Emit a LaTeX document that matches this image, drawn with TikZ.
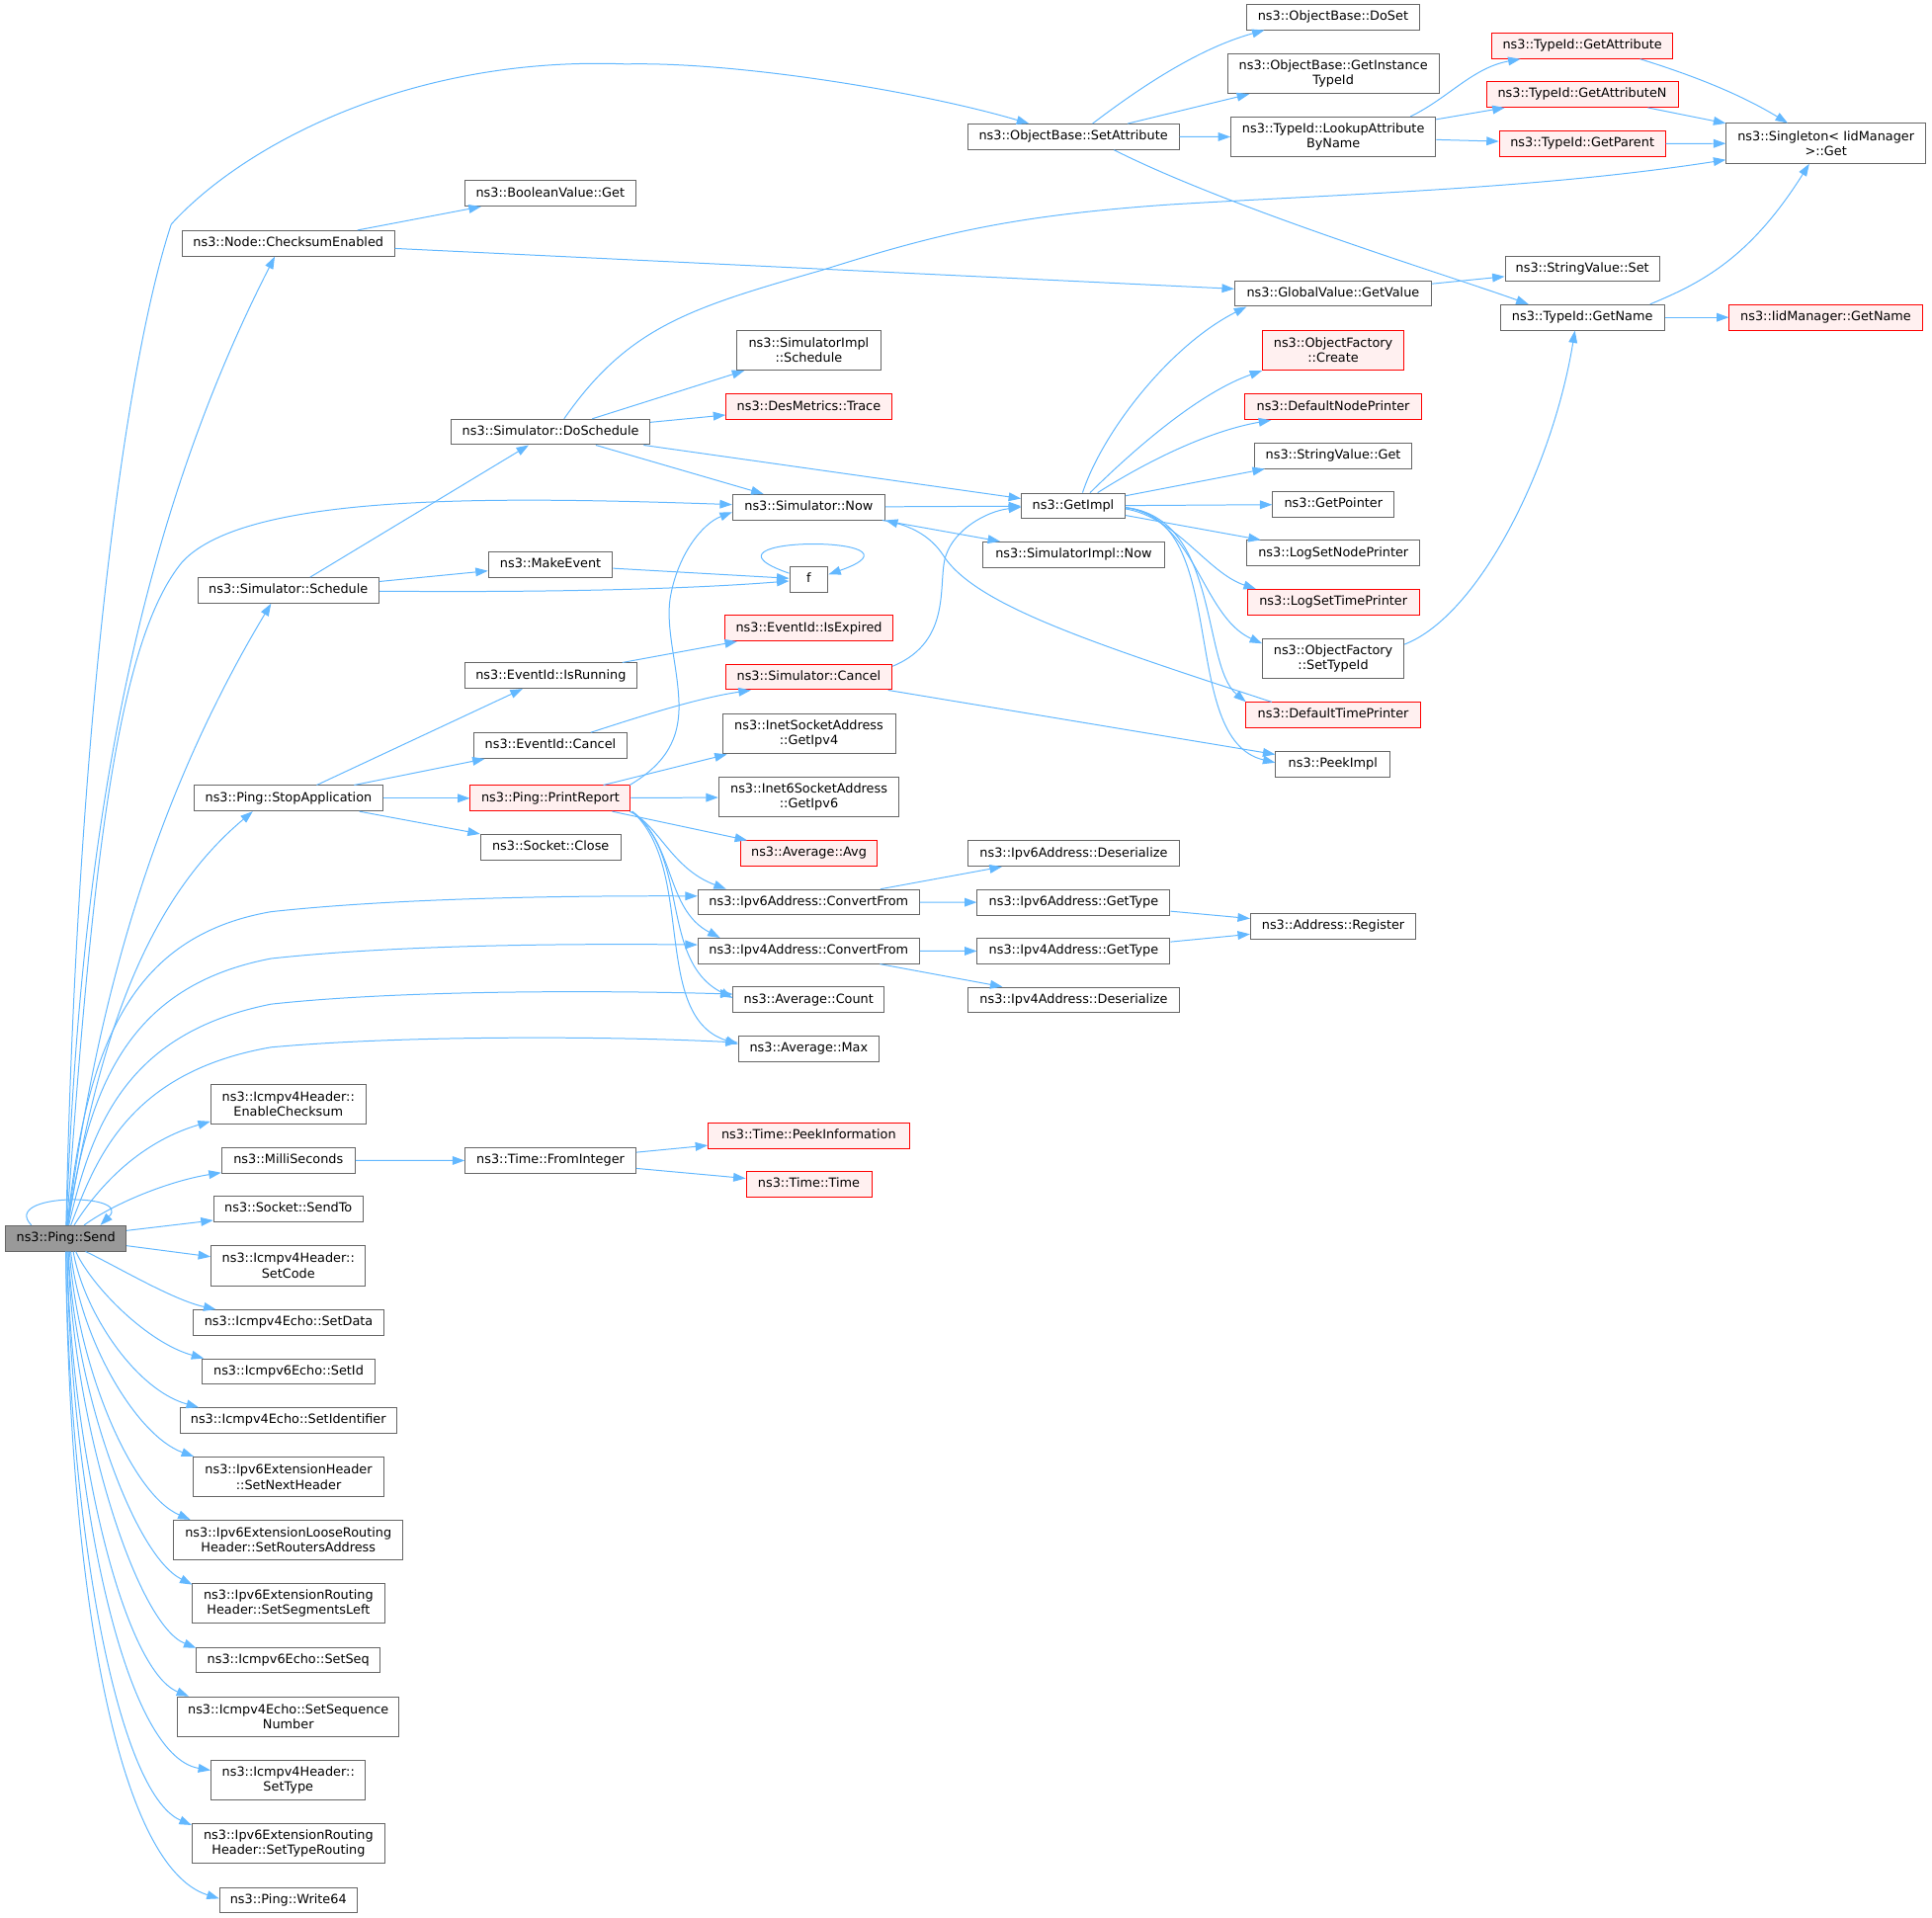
\documentclass[tikz,border=0pt]{standalone}
\usepackage{fontspec}
\setmainfont{DejaVu Sans}
\usetikzlibrary{arrows.meta}
\definecolor{edgeblue}{HTML}{63B8FF}
\definecolor{nodegray}{HTML}{666666}
\definecolor{hotfill}{HTML}{FFF0F0}
\definecolor{hotdraw}{HTML}{FF0000}
\definecolor{rootfill}{HTML}{999999}
\newcommand\fnt{\fontsize{10.3}{12.3}\selectfont}
\begin{document}
\begin{tikzpicture}[x=1pt,y=-1pt,
  ndb/.style={draw=nodegray, fill=white, line width=0.8pt, inner xsep=4pt, inner ysep=0pt, align=center, font=\fnt},
  nd/.style={ndb, minimum height=20.6pt, text height=7.6pt, text depth=2.3pt},
  ndt/.style={ndb, minimum height=32.3pt},
  hot/.style={draw=hotdraw, fill=hotfill},
  lnk/.style={draw=edgeblue, line width=0.8pt, -{Triangle[length=10pt,width=7pt]}}]
\useasboundingbox (0,0) rectangle (1568,1556);

% ---------- nodes ----------
\node[nd, fill=rootfill, minimum width=97.9pt] (send) at (53.45,1005.1) {ns3::Ping::Send};

\node[nd, minimum width=172.4pt] (checksum) at (234,197.5) {ns3::Node::ChecksumEnabled};
\node[nd, minimum width=146.8pt] (schedule) at (234,479.2) {ns3::Simulator::Schedule};
\node[nd, minimum width=152.9pt] (stopapp) at (234.15,647.9) {ns3::Ping::StopApplication};
\node[ndt, minimum width=125.8pt] (enable) at (234,896.2) {ns3::Icmpv4Header::\\EnableChecksum};
\node[nd, minimum width=108.3pt] (milli) at (234,941.9) {ns3::MilliSeconds};
\node[nd, minimum width=121.1pt] (sendto) at (234,981.3) {ns3::Socket::SendTo};
\node[ndt, minimum width=125.4pt] (setcode) at (234,1027.3) {ns3::Icmpv4Header::\\SetCode};
\node[nd, minimum width=154.5pt] (setdata) at (234.25,1073.5) {ns3::Icmpv4Echo::SetData};
\node[nd, minimum width=139.6pt] (setid) at (234.2,1113.2) {ns3::Icmpv6Echo::SetId};
\node[nd, minimum width=175.7pt] (setident) at (234,1153) {ns3::Icmpv4Echo::SetIdentifier};
\node[ndt, minimum width=154.5pt] (setnext) at (234.25,1198.7) {ns3::Ipv6ExtensionHeader\\::SetNextHeader};
\node[ndt, minimum width=186.3pt] (setrouters) at (234,1250) {ns3::Ipv6ExtensionLooseRouting\\Header::SetRoutersAddress};
\node[ndt, minimum width=156.4pt] (setseg) at (234.1,1301.2) {ns3::Ipv6ExtensionRouting\\Header::SetSegmentsLeft};
\node[nd, minimum width=148.9pt] (setseq) at (234,1347.5) {ns3::Icmpv6Echo::SetSeq};
\node[ndt, minimum width=179.9pt] (setseqnum) at (234,1393.4) {ns3::Icmpv4Echo::SetSequence\\Number};
\node[ndt, minimum width=125.4pt] (settype) at (234,1444.8) {ns3::Icmpv4Header::\\SetType};
\node[ndt, minimum width=156.4pt] (settyperout) at (234.1,1496.1) {ns3::Ipv6ExtensionRouting\\Header::SetTypeRouting};
\node[nd, minimum width=111.5pt] (write64) at (234,1542.2) {ns3::Ping::Write64};

\node[nd, minimum width=139.1pt] (boolget) at (446.6,157) {ns3::BooleanValue::Get};
\node[nd, minimum width=161.2pt] (doschedule) at (446.8,350.6) {ns3::Simulator::DoSchedule};
\node[nd, minimum width=100.8pt] (makeevent) at (446.8,458.4) {ns3::MakeEvent};
\node[nd, minimum width=139.3pt] (isrunning) at (447,548.4) {ns3::EventId::IsRunning};
\node[nd, minimum width=124.2pt] (evcancel) at (446.7,605.2) {ns3::EventId::Cancel};
\node[nd, hot, minimum width=129.9pt] (printreport) at (446.7,647.9) {ns3::Ping::PrintReport};
\node[nd, minimum width=113.8pt] (sockclose) at (446.9,687.5) {ns3::Socket::Close};
\node[nd, minimum width=138.5pt] (frominteger) at (446.8,942) {ns3::Time::FromInteger};

\node[ndt, minimum width=117pt] (simimplsched) at (656.4,284.3) {ns3::SimulatorImpl\\::Schedule};
\node[nd, hot, minimum width=134.2pt] (desmetrics) at (656.4,330.3) {ns3::DesMetrics::Trace};
\node[nd, minimum width=123.6pt] (simnow) at (656.4,411.6) {ns3::Simulator::Now};
\node[nd, minimum width=31.1pt] (f) at (656.4,470.3) {f};
\node[nd, hot, minimum width=137pt] (isexpired) at (656.5,509.9) {ns3::EventId::IsExpired};
\node[nd, hot, minimum width=135.1pt] (simcancel) at (656.4,549.5) {ns3::Simulator::Cancel};
\node[ndt, minimum width=140.4pt] (getipv4) at (656.5,595.7) {ns3::InetSocketAddress\\::GetIpv4};
\node[ndt, minimum width=146.4pt] (getipv6) at (656.5,647) {ns3::Inet6SocketAddress\\::GetIpv6};
\node[nd, hot, minimum width=111.4pt] (avg) at (656.5,692.7) {ns3::Average::Avg};
\node[nd, minimum width=179.7pt] (ip6cf) at (656.35,732.3) {ns3::Ipv6Address::ConvertFrom};
\node[nd, minimum width=179.7pt] (ip4cf) at (656.35,771.8) {ns3::Ipv4Address::ConvertFrom};
\node[nd, minimum width=122.4pt] (count) at (656.3,811.5) {ns3::Average::Count};
\node[nd, minimum width=113.9pt] (max) at (656.35,851.1) {ns3::Average::Max};
\node[nd, hot, minimum width=163.1pt] (peekinfo) at (656.35,921.8) {ns3::Time::PeekInformation};
\node[nd, hot, minimum width=101.8pt] (timetime) at (656.5,961.1) {ns3::Time::Time};

\node[nd, minimum width=171.8pt] (setattr) at (871.1,111) {ns3::ObjectBase::SetAttribute};
\node[nd, minimum width=84pt] (getimpl) at (871,410.6) {ns3::GetImpl};
\node[nd, minimum width=146.8pt] (simimplnow) at (871.4,450.1) {ns3::SimulatorImpl::Now};
\node[nd, minimum width=172.4pt] (ip6deser) at (871.4,692.8) {ns3::Ipv6Address::Deserialize};
\node[nd, minimum width=156.4pt] (ip6type) at (871.4,732.4) {ns3::Ipv6Address::GetType};
\node[nd, minimum width=156.4pt] (ip4type) at (871.4,772) {ns3::Ipv4Address::GetType};
\node[nd, minimum width=172.4pt] (ip4deser) at (871.4,811.6) {ns3::Ipv4Address::Deserialize};

\node[nd, minimum width=140.4pt] (doset) at (1081.9,13.8) {ns3::ObjectBase::DoSet};
\node[ndt, minimum width=171.5pt] (getinst) at (1082.1,59.8) {ns3::ObjectBase::GetInstance\\TypeId};
\node[ndt, minimum width=166.2pt] (lookup) at (1082.1,111.1) {ns3::TypeId::LookupAttribute\\ByName};
\node[nd, minimum width=159.6pt] (globalget) at (1081.9,238.3) {ns3::GlobalValue::GetValue};
\node[ndt, hot, minimum width=114.6pt] (ofcreate) at (1082,284.3) {ns3::ObjectFactory\\::Create};
\node[nd, hot, minimum width=143.2pt] (defnode) at (1082,330.3) {ns3::DefaultNodePrinter};
\node[nd, minimum width=127.8pt] (stringget) at (1082,369.9) {ns3::StringValue::Get};
\node[nd, minimum width=98.6pt] (getpointer) at (1082.2,409.3) {ns3::GetPointer};
\node[nd, minimum width=140.3pt] (lognode) at (1082.15,448.9) {ns3::LogSetNodePrinter};
\node[nd, hot, minimum width=139.6pt] (logtime) at (1082.1,488.7) {ns3::LogSetTimePrinter};
\node[ndt, minimum width=114.6pt] (settypeid) at (1082,534.6) {ns3::ObjectFactory\\::SetTypeId};
\node[nd, hot, minimum width=142.4pt] (deftime) at (1082,580.4) {ns3::DefaultTimePrinter};
\node[nd, minimum width=92.9pt] (peekimpl) at (1081.8,620.1) {ns3::PeekImpl};
\node[nd, minimum width=134.2pt] (register) at (1082,751.7) {ns3::Address::Register};

\node[nd, hot, minimum width=146.9pt] (getattr) at (1284.2,37.2) {ns3::TypeId::GetAttribute};
\node[nd, hot, minimum width=155.6pt] (getattrn) at (1284.1,76.7) {ns3::TypeId::GetAttributeN};
\node[nd, hot, minimum width=134.7pt] (getparent) at (1284.2,116.6) {ns3::TypeId::GetParent};
\node[nd, minimum width=125.2pt] (stringset) at (1284.2,218.2) {ns3::StringValue::Set};
\node[nd, minimum width=133pt] (typegetname) at (1284.2,257.6) {ns3::TypeId::GetName};

\node[ndt, minimum width=161.7pt] (singleton) at (1481.9,116.4) {ns3::Singleton< IidManager\\ >::Get};
\node[nd, hot, minimum width=156.5pt] (iidgetname) at (1481.8,257.6) {ns3::IidManager::GetName};

% ---------- edges from Send ----------
\draw[lnk] (send) .. controls (62,600) and (100,300) .. (139,182) .. controls (195,120) and (330,45) .. (508,52) .. controls (600,50) and (750,75) .. (setattr);
\draw[lnk] (send) .. controls (65,680) and (110,430) .. ([shift={(-11,0)}]checksum.south);
\draw[lnk] (send) .. controls (75,700) and (95,520) .. (148,456) .. controls (200,400) and (400,403) .. (simnow);
\draw[lnk] (send) .. controls (80,800) and (130,640) .. ([shift={(-14,0)}]schedule.south);
\draw[lnk] (send) .. controls (80,840) and (120,730) .. ([shift={(-29,0)}]stopapp.south);
\draw[lnk] (send) .. controls (70,850) and (105,760) .. (220,740) .. controls (330,728) and (480,727) .. ([shift={(0,-5)}]ip6cf.west);
\draw[lnk] (send) .. controls (72,880) and (105,800) .. (220,778) .. controls (330,766) and (480,766) .. ([shift={(0,-5)}]ip4cf.west);
\draw[lnk] (send) .. controls (75,910) and (105,838) .. (220,815) .. controls (330,803) and (500,804) .. ([shift={(0,-4.6)}]count.west);
\draw[lnk] (send) .. controls (78,940) and (105,870) .. (220,850) .. controls (330,840) and (500,841) .. ([shift={(0,-4.9)}]max.west);
\draw[lnk] (send) .. controls (85,955) and (120,925) .. ([shift={(0,14)}]enable.west);
\draw[lnk] (send) .. controls (95,975) and (140,958) .. ([shift={(0,9.9)}]milli.west);
\draw[lnk] ([shift={(0,-6.3)}]send.east) -- ([shift={(0,9.2)}]sendto.west);
\draw[lnk] ([shift={(0,6)}]send.east) -- ([shift={(0,-7.3)}]setcode.west);
\draw[lnk] ([shift={(16,0)}]send.south) .. controls (95,1028) and (140,1055) .. ([shift={(-59,0)}]setdata.north);
\draw[lnk] ([shift={(8,0)}]send.south) .. controls (75,1045) and (120,1090) .. ([shift={(1.4,0)}]setid.north west);
\draw[lnk] ([shift={(6,0)}]send.south) .. controls (68,1065) and (110,1128) .. ([shift={(15.5,0)}]setident.north west);
\draw[lnk] ([shift={(4,0)}]send.south) .. controls (64,1085) and (110,1165) .. ([shift={(0.7,0)}]setnext.north west);
\draw[lnk] ([shift={(3,0)}]send.south) .. controls (62,1105) and (105,1212) .. ([shift={(14,0)}]setrouters.north west);
\draw[lnk] ([shift={(2,0)}]send.south) .. controls (60,1125) and (108,1262) .. ([shift={(0.5,1.5)}]setseg.north west);
\draw[lnk] ([shift={(2,0)}]send.south) .. controls (58,1150) and (110,1318) .. ([shift={(0,0.8)}]setseq.north west);
\draw[lnk] ([shift={(1,0)}]send.south) .. controls (57,1175) and (100,1355) .. ([shift={(9.6,0)}]setseqnum.north west);
\draw[lnk] ([shift={(1,0)}]send.south) .. controls (57,1210) and (100,1425) .. ([shift={(0,-8)}]settype.west);
\draw[lnk] (send.south) .. controls (56,1240) and (95,1455) .. ([shift={(0,1.8)}]settyperout.north west);
\draw[lnk] (send.south) .. controls (56,1290) and (95,1515) .. ([shift={(0,-1.2)}]write64.west);
\draw[lnk] ([shift={(-28,0)}]send.north) .. controls (0,968) and (108,968) .. ([shift={(28,0)}]send.north);

% ---------- second level ----------
\draw[lnk] (checksum) -- (boolget);
\draw[lnk] (checksum) -- (globalget);
\draw[lnk] (schedule) -- (doschedule);
\draw[lnk] (schedule) -- (makeevent);
\draw[lnk] (schedule) .. controls (450,481) and (560,478) .. (f);
\draw[lnk] (makeevent) -- (f);
\draw[lnk] ([shift={(0,-5)}]f.west) .. controls (550,434) and (765,434) .. ([shift={(0,-4)}]f.east);
\draw[lnk] (stopapp) -- (isrunning);
\draw[lnk] (stopapp) -- (evcancel);
\draw[lnk] (stopapp) -- (printreport);
\draw[lnk] (stopapp) -- (sockclose);
\draw[lnk] (milli) -- (frominteger);
\draw[lnk] (frominteger) -- (peekinfo);
\draw[lnk] (frominteger) -- (timetime);

\draw[lnk] ([shift={(11,0)}]doschedule.north) .. controls (510,265) and (560,250) .. (668,219) .. controls (760,190) and (820,175) .. (950,166) .. controls (1100,157) and (1250,153) .. ([shift={(0,13.3)}]singleton.west);
\draw[lnk] (doschedule) -- (simimplsched);
\draw[lnk] (doschedule) -- (desmetrics);
\draw[lnk] (doschedule) -- (simnow);
\draw[lnk] (doschedule) -- (getimpl);
\draw[lnk] (isrunning) -- (isexpired);
\draw[lnk] (evcancel) .. controls (530,578) and (570,566) .. ([shift={(-47,0)}]simcancel.south);

\draw[lnk] ([shift={(-1,0)}]printreport.north east) .. controls (540,620) and (552,600) .. (551,570) .. controls (550,540) and (540,510) .. (544,485) .. controls (550,450) and (570,425) .. ([shift={(0,4.1)}]simnow.west);
\draw[lnk] (printreport) -- (getipv4);
\draw[lnk] (printreport) -- (getipv6);
\draw[lnk] (printreport) -- (avg);
\draw[lnk] ([shift={(-1,0)}]printreport.south east) .. controls (535,670) and (545,705) .. ([shift={(-67,0)}]ip6cf.north);
\draw[lnk] ([shift={(1,0)}]printreport.south east) .. controls (548,685) and (540,738) .. ([shift={(-72,0)}]ip4cf.north);
\draw[lnk] ([shift={(1,0)}]printreport.south east) .. controls (560,695) and (535,780) .. ([shift={(0,-1.5)}]count.west);
\draw[lnk] ([shift={(1,0)}]printreport.south east) .. controls (565,705) and (528,825) .. ([shift={(0,-3.6)}]max.west);

\draw[lnk] (ip6cf) -- (ip6deser);
\draw[lnk] (ip6cf) -- (ip6type);
\draw[lnk] (ip4cf) -- (ip4type);
\draw[lnk] (ip4cf) -- (ip4deser);
\draw[lnk] (ip6type) -- (register);
\draw[lnk] (ip4type) -- (register);

\draw[lnk] (simnow) -- (getimpl);
\draw[lnk] (simnow) -- (simimplnow);
\draw[lnk] ([shift={(-50,0)}]deftime.north) .. controls (880,520) and (790,490) .. (765,450) .. controls (755,435) and (740,428) .. (simnow.south east);
\draw[lnk] ([shift={(0,2)}]simcancel.north east) .. controls (775,520) and (760,470) .. (768,450) .. controls (775,430) and (800,415) .. ([shift={(0,1.1)}]getimpl.west);
\draw[lnk] (simcancel) -- (peekimpl);

\draw[lnk] ([shift={(7.6,0)}]getimpl.north) .. controls (895,350) and (950,280) .. ([shift={(-70.3,0)}]globalget.south);
\draw[lnk] ([shift={(13.7,0)}]getimpl.north) .. controls (915,370) and (970,320) .. (ofcreate.south west);
\draw[lnk] ([shift={(19.8,0)}]getimpl.north) .. controls (930,375) and (980,350) .. ([shift={(21.6,0)}]defnode.south west);
\draw[lnk] (getimpl) -- (stringget);
\draw[lnk] (getimpl) -- (getpointer);
\draw[lnk] (getimpl) -- (lognode);
\draw[lnk] ([shift={(0,2.4)}]getimpl.east) .. controls (955,420) and (980,465) .. ([shift={(7.4,0)}]logtime.north west);
\draw[lnk] ([shift={(0,1.4)}]getimpl.east) .. controls (970,420) and (975,500) .. ([shift={(0,4.3)}]settypeid.north west);
\draw[lnk] ([shift={(0,1.4)}]getimpl.east) .. controls (990,420) and (975,540) .. ([shift={(0.8,0)}]deftime.north west);
\draw[lnk] ([shift={(0,1.4)}]getimpl.east) .. controls (1000,420) and (955,600) .. ([shift={(0,-1.1)}]peekimpl.west);

\draw[lnk] ([shift={(15.6,0)}]setattr.north) .. controls (920,75) and (970,40) .. ([shift={(14.9,0)}]doset.south west);
\draw[lnk] (setattr) -- (getinst);
\draw[lnk] (setattr) -- (lookup);
\draw[lnk] ([shift={(33,0)}]setattr.south) .. controls (1000,170) and (1180,225) .. ([shift={(23.2,0)}]typegetname.north west);

\draw[lnk] ([shift={(62.6,0)}]lookup.north) .. controls (1175,80) and (1195,55) .. ([shift={(23.6,0)}]getattr.south west);
\draw[lnk] (lookup) -- (getattrn);
\draw[lnk] (lookup) -- (getparent);
\draw[lnk] ([shift={(-27,0)}]getattr.south east) .. controls (1370,60) and (1410,75) .. ([shift={(-31,0)}]singleton.north);
\draw[lnk] (getattrn) -- (singleton);
\draw[lnk] (getparent) -- (singleton);
\draw[lnk] ([shift={(55,0)}]typegetname.north) .. controls (1380,230) and (1420,210) .. ([shift={(-13.5,0)}]singleton.south);
\draw[lnk] (typegetname) -- (iidgetname);
\draw[lnk] (globalget) -- (stringset);
\draw[lnk] ([shift={(0,5)}]settypeid.north east) .. controls (1200,500) and (1260,380) .. ([shift={(-6,0)}]typegetname.south);
\end{tikzpicture}
\end{document}
